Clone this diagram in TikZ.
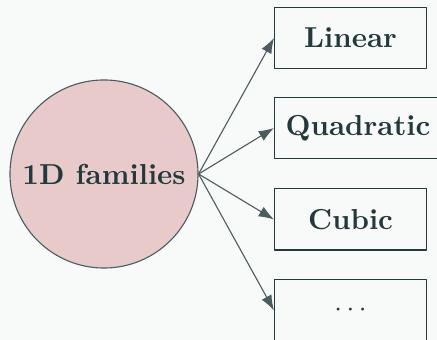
\documentclass[tikz,border=0pt]{standalone}
\usetikzlibrary{arrows.meta}
\definecolor{bgcol}{HTML}{F8F9F9}
\definecolor{famfill}{HTML}{E8CACB}
\definecolor{inkcol}{HTML}{23393B}
\definecolor{edgecol}{HTML}{4B5D5F}
\begin{document}
\begin{tikzpicture}[x=0.36pt,y=0.36pt,line cap=round,line join=round,
    family/.style={circle,draw=edgecol,fill=famfill,minimum size=67.7pt,inner sep=0pt,text=inkcol,font=\fontsize{10.4}{12}\selectfont\bfseries},
    kind/.style={draw=inkcol,fill=bgcol,anchor=west,minimum width=54.7pt,minimum height=22pt,inner sep=4pt,text=inkcol,font=\fontsize{10.4}{12}\selectfont\bfseries},
    link/.style={draw=edgecol,-{Latex[length=5.5pt,width=4pt]}}]
        \fill[bgcol] (0,0) rectangle (437,340);
        \useasboundingbox (0,0) rectangle (437,340);

        \node[family] (fam) at (104,166) {1D families};

        \node[kind] (lin) at (274,302) {Linear};
        \node[kind] (quad) at (274,212) {Quadratic};
        \node[kind] (cub) at (274,120.5) {Cubic};
        \node[kind] (more) at (274,29.5) {$\cdots$};

        \draw[link] (fam.east) -- (lin.west);
        \draw[link] (fam.east) -- (quad.west);
        \draw[link] (fam.east) -- (cub.west);
        \draw[link] (fam.east) -- (more.west);
      \end{tikzpicture}
\end{document}
